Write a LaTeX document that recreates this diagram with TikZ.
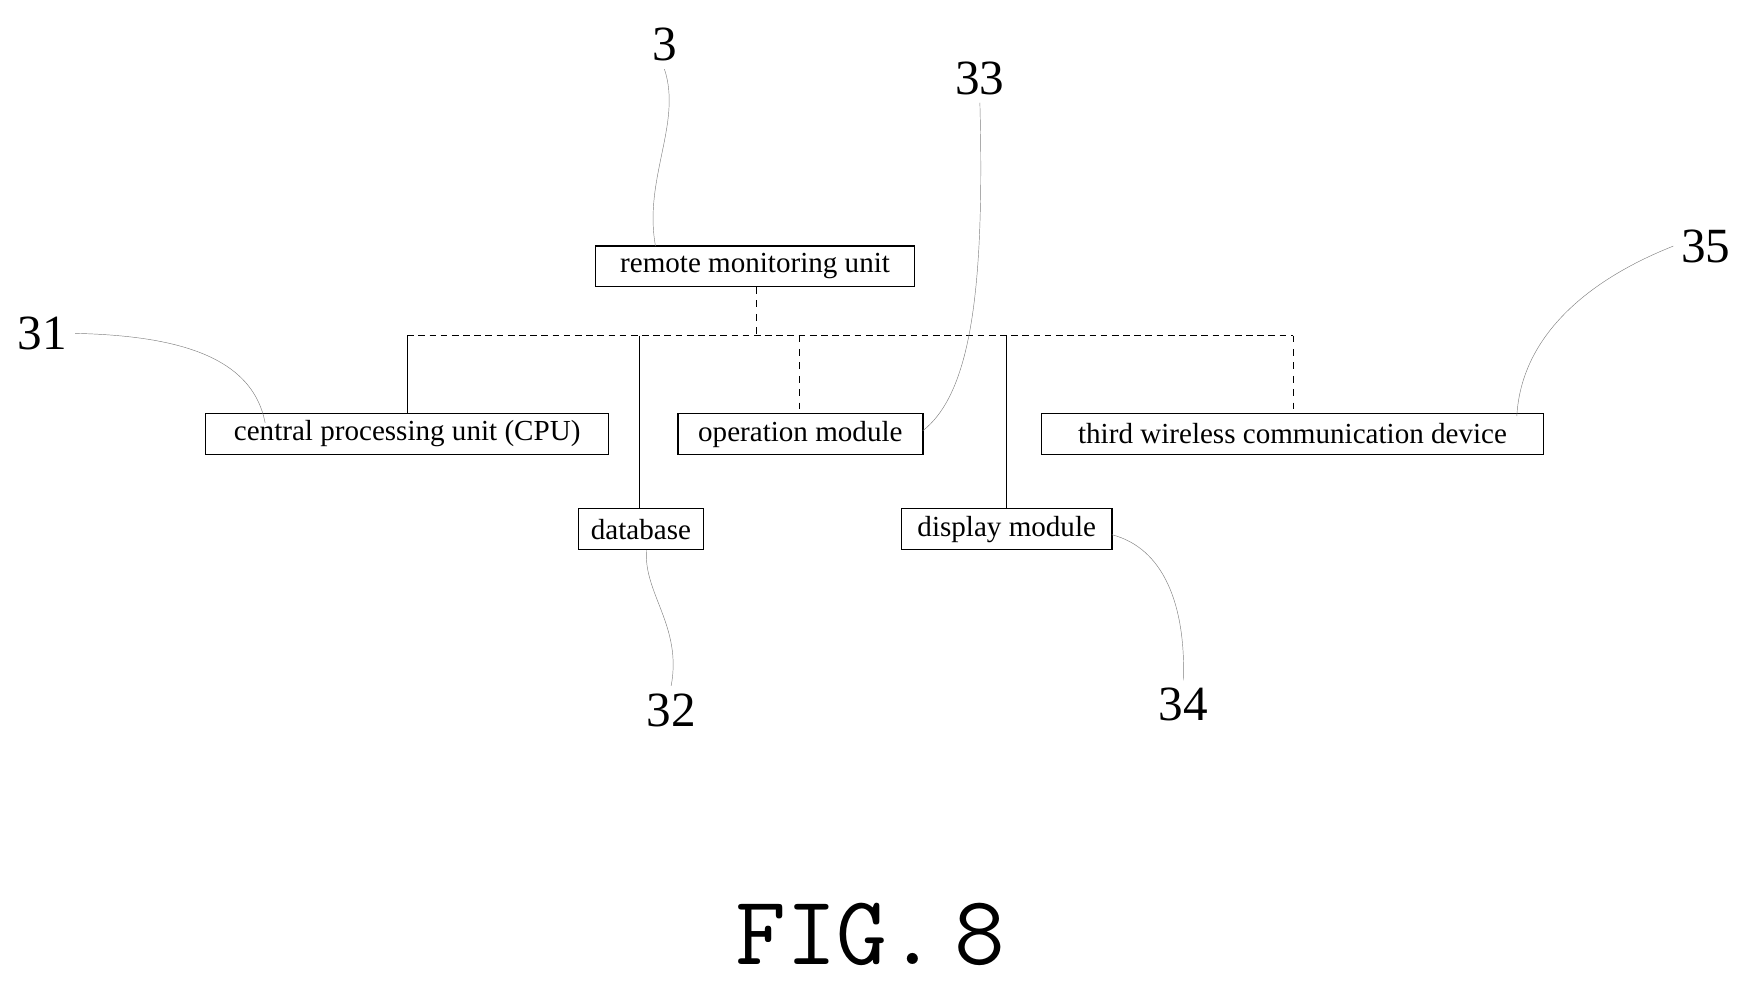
\documentclass[tikz,border=0pt]{standalone}
\usepackage{fontspec}
\setmainfont{Liberation Serif}
\begin{document}
\begin{tikzpicture}[x=0.5pt,y=-0.5pt,
box/.style={draw,semithick,inner sep=0pt,font=\fontsize{13}{13}\selectfont},
lead/.style={very thin,gray},
num/.style={font=\fontsize{22}{22}\selectfont}]
\useasboundingbox (0,0) rectangle (1560,890);
\node[box,minimum width=142.5pt,minimum height=18pt] (rmu) at (675,238) {remote monitoring unit};
\node[box,minimum width=180pt,minimum height=18.5pt] (cpu) at (364,388) {central processing unit (CPU)};
\node[box,minimum width=109.5pt,minimum height=18.5pt] (op) at (715.5,388) {operation module};
\node[box,minimum width=224.5pt,minimum height=18.5pt] (tw) at (1155.5,388) {third wireless communication device};
\node[box,minimum width=56pt,minimum height=18.5pt] (db) at (573,473) {database};
\node[box,minimum width=94pt,minimum height=18.5pt] (dm) at (900,473) {display module};
\coordinate (b0) at (364,300); \coordinate (b1) at (1156,300);
\coordinate (bm) at (676,300);
\draw[densely dashed] (b0) -- (b1);
\draw[dashed] (rmu.south -| bm) -- (bm);
\draw (b0) -- (cpu.north -| b0);
\coordinate (bd) at (572,300); \draw (bd) -- (db.north -| bd);
\coordinate (bo) at (715,300); \draw[dashed] (bo) -- (op.north -| bo);
\coordinate (bp) at (900,300); \draw (bp) -- (dm.north -| bp);
\coordinate (bt) at (1156,300); \draw[dashed] (bt) -- (tw.north -| bt);
% labels
\node[num] (n3) at (594,40) {3};
\node[num] (n33) at (876,70) {33};
\node[num] (n31) at (38,298) {31};
\node[num] (n35) at (1525,220) {35};
\node[num] (n32) at (600,635) {32};
\node[num] (n34) at (1058,630) {34};
\coordinate (e3) at (586,220);
\draw[lead] (n3.south) .. controls (610,110) and (575,160) .. (e3);
\coordinate (e33) at (825,385);
\draw[lead] (n33.south) .. controls (880,250) and (870,350) .. (e33);
\coordinate (e31) at (237,378);
\draw[lead] (n31.east) .. controls (150,300) and (225,315) .. (e31);
\coordinate (e35) at (1356,372);
\draw[lead] (n35.west) .. controls (1420,250) and (1360,300) .. (e35);
\coordinate (e32) at (578,492);
\draw[lead] (n32.north) .. controls (610,560) and (575,530) .. (e32);
\coordinate (e34) at (994,478);
\draw[lead] (n34.north) .. controls (1060,540) and (1040,490) .. (e34);
\node[font=\fontsize{44}{44}\selectfont\ttfamily] (fig) at (778,835) {FIG.\,8};
\end{tikzpicture}
\end{document}
